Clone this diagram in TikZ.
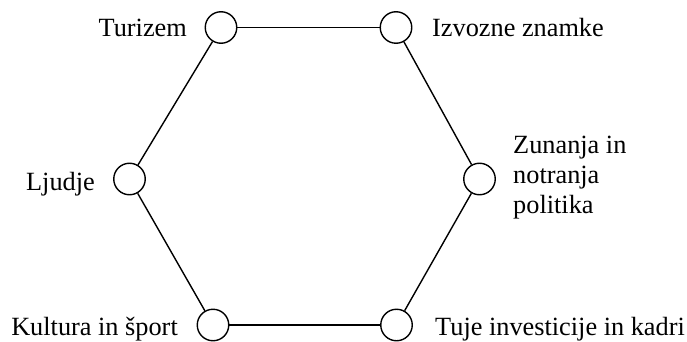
\documentclass[tikz,border=0pt]{standalone}
\usepackage{fontspec}
\setmainfont{Liberation Serif}
\begin{document}
\begin{tikzpicture}[x=1pt,y=-1pt,
  hub/.style={circle,draw,line width=1.4pt,minimum size=31.5pt,inner sep=0pt},
  lbl/.style={inner sep=0pt,font=\fontsize{26.3}{30}\selectfont},
  conn/.style={line width=1.4pt}]
\useasboundingbox (0,0) rectangle (687,342);
\node[hub] (tl) at (221,27.5) {};
\node[hub] (tr) at (396,27.5) {};
\node[hub] (l) at (129.5,179) {};
\node[hub] (r) at (479.5,179) {};
\node[hub] (bl) at (213,325) {};
\node[hub] (br) at (396.5,325) {};
\draw[conn] (tl) -- (tr);
\draw[conn] (tr) -- (r);
\draw[conn] (r) -- (br);
\draw[conn] (br) -- (bl);
\draw[conn] (bl) -- (l);
\draw[conn] (l) -- (tl);
\node[lbl,anchor=base east] (t1) at (187,37) {Turizem};
\node[lbl,anchor=base west] (t2) at (432,37) {Izvozne znamke};
\node[lbl,anchor=base east] (t3) at (95,190) {Ljudje};
\node[lbl,anchor=base west] (t4a) at (513,153) {Zunanja in};
\node[lbl,anchor=base west] (t4b) at (513,183) {notranja};
\node[lbl,anchor=base west] (t4c) at (513,213) {politika};
\node[lbl,anchor=base east] (t5) at (178,335) {Kultura in šport};
\node[lbl,anchor=base east] (t6) at (685,335) {Tuje investicije in kadri};
\end{tikzpicture}
\end{document}
